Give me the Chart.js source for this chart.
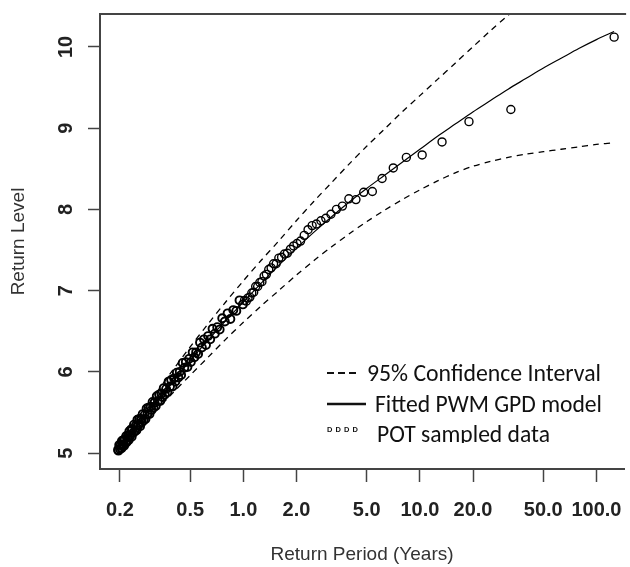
<!DOCTYPE html>
<html>
<head>
<meta charset="utf-8">
<script src="https://cdn.jsdelivr.net/npm/chart.js@4.4.1/dist/chart.umd.min.js"></script>
<style>
html,body{margin:0;padding:0;background:#fff;overflow:hidden;}
canvas{display:block;}
</style>
</head>
<body>
<canvas id="c" width="630" height="567"></canvas>
<script>
// ---- tick labels ----
const xTickValues = [0.2, 0.5, 1, 2, 5, 10, 20, 50, 100];
const yTickValues = [5, 6, 7, 8, 9, 10];

// ---- POT sampled data (return period in years, return level) ----
const potPeriod = [
  126, 32.76, 18.97, 13.35, 10.30, 8.381, 7.067, 6.108, 5.379, 4.805,
  4.342, 3.960, 3.640, 3.368, 3.134, 2.930, 2.751, 2.593, 2.452, 2.325,
  2.211, 2.108, 2.013, 1.927, 1.848, 1.775, 1.708, 1.646, 1.588, 1.534,
  1.483, 1.436, 1.392, 1.350, 1.311, 1.274, 1.239, 1.205, 1.174, 1.144,
  1.116, 1.089, 1.063, 1.039, 1.015, 0.993,
  0.951, 0.912, 0.877, 0.844, 0.814, 0.785, 0.759, 0.734, 0.711, 0.689,
  0.669, 0.649, 0.631, 0.614, 0.598, 0.582, 0.568, 0.554, 0.540, 0.528,
  0.516, 0.504, 0.493, 0.482, 0.472, 0.463, 0.453, 0.444, 0.436, 0.428,
  0.420, 0.412, 0.405, 0.397, 0.390, 0.384, 0.377, 0.371, 0.365, 0.359,
  0.354, 0.348, 0.343, 0.338, 0.333, 0.328, 0.323, 0.319, 0.314, 0.310,
  0.306, 0.302, 0.298, 0.294, 0.290, 0.286, 0.283, 0.279, 0.276, 0.272,
  0.269, 0.266, 0.263, 0.260, 0.257, 0.254, 0.251, 0.248, 0.246, 0.243,
  0.240, 0.238, 0.235, 0.233, 0.231, 0.228, 0.226, 0.224, 0.222, 0.219,
  0.217, 0.215, 0.213, 0.211, 0.209, 0.207, 0.205, 0.204, 0.202, 0.200,
  0.198, 0.196, 0.195
];
const potLevel = [
  10.12, 9.23, 9.08, 8.83, 8.67, 8.64, 8.51, 8.38, 8.22, 8.21,
  8.12, 8.13, 8.04, 8.00, 7.94, 7.89, 7.86, 7.82, 7.80, 7.75,
  7.68, 7.61, 7.58, 7.55, 7.51, 7.46, 7.45, 7.41, 7.40, 7.33,
  7.33, 7.28, 7.26, 7.20, 7.18, 7.11, 7.10, 7.05, 7.05, 6.98,
  6.97, 6.92, 6.91, 6.87, 6.88, 6.83,
  6.88, 6.75, 6.76, 6.65, 6.72, 6.62, 6.66, 6.52, 6.55, 6.47,
  6.53, 6.40, 6.44, 6.33, 6.40, 6.30, 6.36, 6.22, 6.24, 6.18,
  6.24, 6.12, 6.16, 6.06, 6.12, 6.05, 6.11, 5.96, 6.00, 5.93,
  5.99, 5.88, 5.92, 5.82, 5.90, 5.82, 5.88, 5.75, 5.79, 5.72,
  5.80, 5.69, 5.73, 5.64, 5.72, 5.64, 5.70, 5.58, 5.62, 5.56,
  5.63, 5.53, 5.57, 5.48, 5.56, 5.48, 5.55, 5.42, 5.47, 5.40,
  5.48, 5.38, 5.42, 5.33, 5.42, 5.34, 5.41, 5.28, 5.34, 5.27,
  5.35, 5.25, 5.29, 5.20, 5.29, 5.21, 5.27, 5.16, 5.21, 5.14,
  5.21, 5.12, 5.17, 5.09, 5.16, 5.10, 5.15, 5.06, 5.10, 5.05,
  5.10, 5.03, 5.04
];

// ---- fitted PWM GPD model and 95% confidence interval ----
const curvePeriod = [
  0.194, 0.251, 0.316, 0.398, 0.501, 0.631, 0.794, 1.0, 1.259, 1.585,
  1.995, 2.512, 3.162, 3.981, 5.012, 6.310, 7.943, 10.0, 12.59, 15.85,
  19.95, 25.12, 31.62, 39.81, 50.12, 63.10, 79.43, 100.0, 125.9
];
const fittedLevel = [
  5.04, 5.35, 5.62, 5.88, 6.14, 6.39, 6.63, 6.86, 7.09, 7.31,
  7.52, 7.72, 7.91, 8.09, 8.26, 8.42, 8.58, 8.74, 8.90, 9.05,
  9.20, 9.34, 9.48, 9.61, 9.74, 9.86, 9.98, 10.09, 10.19
];
const upperLevel = [
  5.09, 5.42, 5.72, 6.02, 6.31, 6.59, 6.86, 7.12, 7.37, 7.61,
  7.86, 8.10, 8.33, 8.56, 8.78, 8.99, 9.20, 9.40, 9.60, 9.80,
  10.00, 10.20, 10.39, 10.58, 10.77, 10.96, 11.15, 11.34, 11.52
];
const lowerLevel = [
  5.00, 5.27, 5.51, 5.74, 5.96, 6.18, 6.40, 6.61, 6.81, 7.00,
  7.19, 7.37, 7.54, 7.70, 7.85, 7.99, 8.12, 8.24, 8.35, 8.45,
  8.53, 8.59, 8.64, 8.68, 8.71, 8.74, 8.77, 8.80, 8.82
];

const legendItems = ['95% Confidence Interval', 'Fitted PWM GPD model', 'POT sampled data'];
const xTitle = 'Return Period (Years)';
const yTitle = 'Return Level';

const pts = (xs, ys) => xs.map((x, i) => ({x: x, y: ys[i]}));

const framePlugin = {
  id: 'frame',
  afterDraw(chart) {
    const ctx = chart.ctx, a = chart.chartArea;
    ctx.save();
    ctx.strokeStyle = '#444';
    ctx.lineWidth = 2;
    ctx.beginPath();
    ctx.moveTo(a.left - 1, a.top);
    ctx.lineTo(a.right + 2, a.top);
    ctx.stroke();
    ctx.restore();
  }
};

const legendPlugin = {
  id: 'customLegend',
  afterDraw(chart) {
    const ctx = chart.ctx;
    ctx.save();
    ctx.beginPath();
    ctx.rect(0, 0, 630, 443);
    ctx.clip();
    ctx.fillStyle = '#111';
    ctx.textBaseline = 'alphabetic';
    ctx.textAlign = 'left';
    const fam = 'Carlito, Calibri, Lato, "Open Sans", sans-serif';
    const targets = [[367, 381, 234], [375, 412, 227], [377, 442, 173]];
    legendItems.forEach((t, i) => {
      ctx.font = '24px ' + fam;
      const w = ctx.measureText(t).width;
      const size = Math.min(24, 24 * targets[i][2] / w);
      ctx.font = size.toFixed(2) + 'px ' + fam;
      ctx.fillText(t, targets[i][0], targets[i][1]);
    });
    // dashed sample
    ctx.strokeStyle = '#111';
    ctx.lineWidth = 2;
    ctx.setLineDash([7, 4]);
    ctx.beginPath();
    ctx.moveTo(327, 373);
    ctx.lineTo(358, 373);
    ctx.stroke();
    // solid sample
    ctx.setLineDash([]);
    ctx.lineWidth = 2.5;
    ctx.beginPath();
    ctx.moveTo(327, 404);
    ctx.lineTo(366, 404);
    ctx.stroke();
    // tiny point symbols
    ctx.font = 'bold 7.5px "Liberation Sans", Arial, sans-serif';
    ctx.textBaseline = 'middle';
    for (let k = 0; k < 4; k++) ctx.fillText('D', 327 + k * 8.5, 430);
    ctx.restore();
  }
};

const tickFont = {family: '"Liberation Sans", Arial, sans-serif', size: 20, weight: 'bold'};
const titleFont = {family: '"Liberation Sans", Arial, sans-serif', size: 19};

new Chart(document.getElementById('c'), {
  data: {
    datasets: [
      {type: 'scatter', label: legendItems[2], data: pts(potPeriod, potLevel),
       pointRadius: 4,
       pointBorderWidth: c => (c.raw && c.raw.x < 1 ? 1.9 : 1.4),
       pointBorderColor: '#000',
       pointBackgroundColor: 'rgba(0,0,0,0)', order: 0},
      {type: 'line', label: legendItems[1], data: pts(curvePeriod, fittedLevel),
       borderColor: '#000', borderWidth: 1.2, pointRadius: 0, tension: 0.3, order: 1},
      {type: 'line', label: 'upper', data: pts(curvePeriod, upperLevel),
       borderColor: '#000', borderWidth: 1.3, borderDash: [6, 5], pointRadius: 0, tension: 0.3, order: 1},
      {type: 'line', label: 'lower', data: pts(curvePeriod, lowerLevel),
       borderColor: '#000', borderWidth: 1.3, borderDash: [6, 5], pointRadius: 0, tension: 0.3, order: 1}
    ]
  },
  options: {
    responsive: false,
    animation: false,
    devicePixelRatio: 1,
    layout: {padding: {top: 14, right: 0, left: 0, bottom: 0}},
    plugins: {legend: {display: false}, tooltip: {enabled: false}},
    scales: {
      x: {
        type: 'logarithmic',
        position: 'bottom',
        min: 0.1541,
        max: 143.5,
        afterBuildTicks(s) { s.ticks = xTickValues.map(v => ({value: v})); },
        afterFit(s) { s.height = 98; s.paddingLeft = 0; s.paddingRight = 0; },
        ticks: {
          autoSkip: false, maxRotation: 0, minRotation: 0,
          padding: 16, color: '#222', font: tickFont,
          callback: v => Number(v).toFixed(1)
        },
        grid: {drawOnChartArea: false, drawTicks: true, tickLength: 13, tickColor: '#444', tickWidth: 1.5},
        border: {display: true, color: '#444', width: 2},
        title: {display: true, text: xTitle, color: '#333', font: titleFont, padding: {top: 0, bottom: 1}}
      },
      y: {
        type: 'linear',
        position: 'left',
        min: 4.804,
        max: 10.405,
        afterBuildTicks(s) { s.ticks = yTickValues.map(v => ({value: v})); },
        afterFit(s) { s.width = 100; s.paddingTop = 0; s.paddingBottom = 0; },
        ticks: {
          autoSkip: false, minRotation: 90, maxRotation: 90, crossAlign: 'center',
          padding: 10, color: '#222', font: tickFont,
          callback: v => String(v)
        },
        grid: {drawOnChartArea: false, drawTicks: true, tickLength: 12, tickColor: '#444', tickWidth: 1.5},
        border: {display: true, color: '#444', width: 2},
        title: {display: true, text: yTitle, color: '#333', font: titleFont, padding: {top: 7, bottom: 0}}
      }
    }
  },
  plugins: [framePlugin, legendPlugin]
});
</script>
</body>
</html>
